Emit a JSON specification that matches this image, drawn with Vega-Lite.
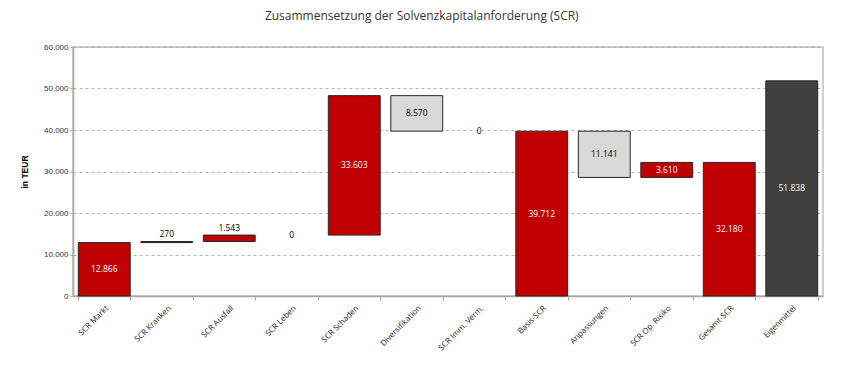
{
  "$schema": "https://vega.github.io/schema/vega-lite/v6.json",
  "width": 750,
  "height": 249,
  "autosize": {"type": "none"},
  "padding": {"left": 73, "top": 47, "right": 27, "bottom": 74},
  "background": "white",
  "config": {
    "locale": {"number": {"decimal": ",", "thousands": ".", "grouping": [3], "currency": ["", " €"]}},
    "view": {"stroke": "#BFBFBF", "strokeWidth": 1.5},
    "font": "Liberation Sans"
  },
  "title": {
    "text": "Zusammensetzung der Solvenzkapitalanforderung (SCR)",
    "frame": "bounds",
    "anchor": "middle",
    "font": "Open Sans",
    "fontSize": 12,
    "fontWeight": "normal",
    "color": "#333333",
    "offset": 20
  },
  "data": {
    "values": [
      {"cat": "SCR Markt", "start": 0, "end": 12866, "value": 12866, "kind": "SCR"},
      {"cat": "SCR Kranken", "start": 12866, "end": 13136, "value": 270, "kind": "SCR"},
      {"cat": "SCR Ausfall", "start": 13136, "end": 14679, "value": 1543, "kind": "SCR"},
      {"cat": "SCR Leben", "start": 14679, "end": 14679, "value": 0, "kind": "Null"},
      {"cat": "SCR Schaden", "start": 14679, "end": 48282, "value": 33603, "kind": "SCR"},
      {"cat": "Diversifikation", "start": 48282, "end": 39712, "value": 8570, "kind": "Abzug"},
      {"cat": "SCR Imm. Verm.", "start": 39712, "end": 39712, "value": 0, "kind": "Null"},
      {"cat": "Basis-SCR", "start": 0, "end": 39712, "value": 39712, "kind": "SCR"},
      {"cat": "Anpassungen", "start": 39712, "end": 28571, "value": 11141, "kind": "Abzug"},
      {"cat": "SCR Op. Risiko", "start": 28571, "end": 32180, "value": 3610, "kind": "SCR"},
      {"cat": "Gesamt-SCR", "start": 0, "end": 32180, "value": 32180, "kind": "SCR"},
      {"cat": "Eigenmittel", "start": 0, "end": 51838, "value": 51838, "kind": "Eigenmittel"}
    ]
  },
  "encoding": {
    "x": {
      "field": "cat", "type": "nominal",
      "sort": ["SCR Markt", "SCR Kranken", "SCR Ausfall", "SCR Leben", "SCR Schaden", "Diversifikation", "SCR Imm. Verm.", "Basis-SCR", "Anpassungen", "SCR Op. Risiko", "Gesamt-SCR", "Eigenmittel"],
      "scale": {"paddingInner": 0.17, "paddingOuter": 0.085},
      "axis": {
        "title": null, "labelAngle": -45, "labelAlign": "right", "labelBaseline": "top",
        "labelFont": "Open Sans", "labelFontSize": 8, "labelColor": "#222222", "labelPadding": 4,
        "tickBand": "extent", "tickColor": "#A6A6A6", "tickSize": 4,
        "domainColor": "#A6A6A6", "domainWidth": 1.5, "grid": false
      }
    }
  },
  "layer": [
    {
      "mark": {"type": "bar", "stroke": "#262626", "strokeWidth": 1},
      "transform": [{"filter": "datum.value > 0"}],
      "encoding": {
        "y": {
          "field": "start", "type": "quantitative",
          "scale": {"domain": [0, 60000]},
          "axis": {
            "title": "in TEUR", "titleFontSize": 8.5, "titleFontWeight": "bold", "titleColor": "#000000",
            "titlePadding": 14, "format": ",d", "values": [0, 10000, 20000, 30000, 40000, 50000, 60000],
            "labelFontSize": 8, "labelColor": "#333333", "tickSize": 3, "tickColor": "#A6A6A6",
            "domainColor": "#A6A6A6", "domainWidth": 1.5,
            "grid": true, "gridDash": [3, 3], "gridColor": "#B0B0B0"
          }
        },
        "y2": {"field": "end"},
        "fill": {
          "field": "kind", "type": "nominal", "legend": null,
          "scale": {"domain": ["SCR", "Abzug", "Eigenmittel", "Null"], "range": ["#C00000", "#D9D9D9", "#404040", "#C00000"]}
        }
      }
    },
    {
      "transform": [
        {"fold": ["start", "end"], "as": ["k", "v"]},
        {"aggregate": [{"op": "mean", "field": "v", "as": "mid"}], "groupby": ["cat", "value", "kind"]},
        {"filter": "datum.value >= 2000 || datum.value == 0"}
      ],
      "mark": {"type": "text", "fontSize": 8.5, "font": "Open Sans", "baseline": "middle"},
      "encoding": {
        "y": {"field": "mid", "type": "quantitative"},
        "text": {"field": "value", "type": "quantitative", "format": ",d"},
        "color": {
          "field": "kind", "type": "nominal", "legend": null,
          "scale": {"domain": ["SCR", "Abzug", "Eigenmittel", "Null"], "range": ["#FFFFFF", "#000000", "#FFFFFF", "#000000"]}
        }
      }
    },
    {
      "transform": [
        {"fold": ["start", "end"], "as": ["k", "v"]},
        {"aggregate": [{"op": "max", "field": "v", "as": "top"}], "groupby": ["cat", "value", "kind"]},
        {"filter": "datum.value > 0 && datum.value < 2000"}
      ],
      "mark": {"type": "text", "fontSize": 8.5, "font": "Open Sans", "baseline": "bottom", "dy": -2, "color": "#000000"},
      "encoding": {
        "y": {"field": "top", "type": "quantitative"},
        "text": {"field": "value", "type": "quantitative", "format": ",d"}
      }
    }
  ]
}
